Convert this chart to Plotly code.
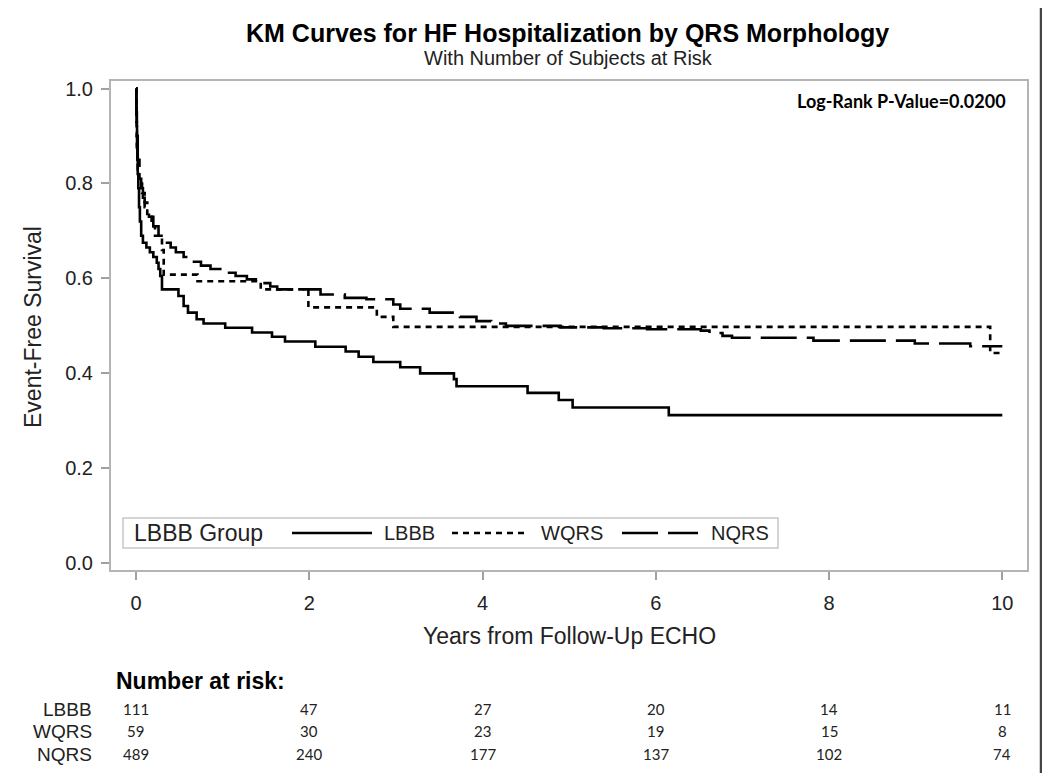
import plotly.graph_objects as go

# ---------------- data ----------------
groups = ["LBBB", "WQRS", "NQRS"]

lbbb_t = [0.004, 0.008, 0.012, 0.016, 0.02, 0.027, 0.035, 0.045, 0.06, 0.08, 0.12, 0.16,
          0.20, 0.24, 0.26, 0.28, 0.30, 0.49, 0.55, 0.60, 0.70, 0.78, 1.03, 1.34, 1.57,
          1.72, 2.07, 2.42, 2.57, 2.74, 3.05, 3.28, 3.67, 3.70, 4.52, 4.88, 5.04, 6.15]
lbbb_s = [0.96, 0.92, 0.88, 0.85, 0.82, 0.79, 0.75, 0.72, 0.69, 0.675, 0.665, 0.655,
          0.645, 0.633, 0.62, 0.605, 0.577, 0.563, 0.542, 0.528, 0.514, 0.505, 0.496, 0.486, 0.477,
          0.467, 0.456, 0.446, 0.435, 0.424, 0.413, 0.400, 0.388, 0.373, 0.359, 0.344, 0.328, 0.312]

wqrs_t = [0.005, 0.01, 0.02, 0.04, 0.07, 0.10, 0.13, 0.18, 0.22, 0.30, 0.32, 0.71,
          1.44, 1.99, 2.78, 2.97, 9.86]
wqrs_s = [0.93, 0.87, 0.83, 0.80, 0.78, 0.76, 0.73, 0.71, 0.69, 0.66, 0.608, 0.594,
          0.577, 0.539, 0.519, 0.498, 0.443]

nqrs_t = [0.005, 0.01, 0.02, 0.04, 0.06, 0.08, 0.10, 0.15, 0.20, 0.26, 0.32, 0.40,
          0.46, 0.55, 0.65, 0.75, 0.86, 1.00, 1.15, 1.28, 1.45, 1.55, 1.63, 2.13,
          2.41, 2.66, 2.97, 3.05, 3.39, 3.74, 3.93, 4.10, 4.27, 4.90, 5.40, 5.90,
          6.52, 6.62, 6.77, 6.88, 7.82, 8.99, 9.63]
nqrs_s = [0.95, 0.90, 0.85, 0.81, 0.79, 0.77, 0.75, 0.73, 0.71, 0.69, 0.675, 0.665,
          0.655, 0.645, 0.635, 0.627, 0.620, 0.612, 0.605, 0.598, 0.590, 0.583, 0.577, 0.566,
          0.559, 0.556, 0.545, 0.536, 0.528, 0.519, 0.510, 0.505, 0.500, 0.497, 0.495, 0.493,
          0.490, 0.485, 0.479, 0.475, 0.469, 0.463, 0.457]

end_time = 10.0

risk_times = [0, 2, 4, 6, 8, 10]
risk_lbbb = [111, 47, 27, 20, 14, 11]
risk_wqrs = [59, 30, 23, 19, 15, 8]
risk_nqrs = [489, 240, 177, 137, 102, 74]

x_ticks = [0, 2, 4, 6, 8, 10]
y_ticks = [0.0, 0.2, 0.4, 0.6, 0.8, 1.0]
y_tick_labels = ["0.0", "0.2", "0.4", "0.6", "0.8", "1.0"]

title_text = "KM Curves for HF Hospitalization by QRS Morphology"
subtitle_text = "With Number of Subjects at Risk"
pvalue_text = "Log-Rank P-Value=0.0200"
legend_title = "LBBB Group"

# ---------------- layout helpers ----------------
PAGE_OFF = 8                       # default page margin of the html body
W, H = 1050 - PAGE_OFF, 782 - 2 * PAGE_OFF
RL, RR, RT, RB = 111, 1027, 81, 570   # plot area in screen pixels


def px(x):
    return (x - RL) / (RR - RL)


def py(y):
    return (RB - y) / (RB - RT)


AX_FONT = "Liberation Sans, Arial, sans-serif"
CAL_FONT = "Lato, Liberation Sans, sans-serif"

dash_w = "6px,5px"
dash_n = "36px,10px"

series = [
    ("LBBB", lbbb_t, lbbb_s, "solid"),
    ("WQRS", wqrs_t, wqrs_s, dash_w),
    ("NQRS", nqrs_t, nqrs_s, dash_n),
]

fig = go.Figure()
for name, tt, ss, dash in series:
    xs = [0.0] + list(tt) + [end_time]
    ys = [1.0] + list(ss) + [ss[-1]]
    fig.add_trace(go.Scatter(
        x=xs, y=ys, mode="lines", name=name,
        line=dict(color="black", width=2.6, dash=dash, shape="hv"),
        showlegend=False,
    ))

axis_common = dict(
    showline=True, linecolor="#b4b4b4", linewidth=2, mirror=True,
    ticks="outside", ticklen=8, tickwidth=1.5, tickcolor="#a0a0a0",
    showgrid=False, zeroline=False,
    tickfont=dict(family=AX_FONT, size=20, color="#222"),
)

fig.update_layout(
    width=W, height=H,
    margin=dict(l=RL - PAGE_OFF, r=W - (RR - PAGE_OFF), t=RT - PAGE_OFF, b=H - (RB - PAGE_OFF)),
    paper_bgcolor="white", plot_bgcolor="white",
    xaxis=dict(range=[-0.2885, 10.285], tickvals=x_ticks, ticklabelstandoff=6, **axis_common),
    yaxis=dict(range=[-0.0141, 1.0158], tickvals=y_ticks, ticktext=y_tick_labels,
               ticklabelstandoff=4, **axis_common),
    showlegend=False,
)

ann = []
# titles
ann.append(dict(text="<b>" + title_text + "</b>", x=px(567), y=py(33), xref="paper", yref="paper",
                showarrow=False, font=dict(family=AX_FONT, size=25, color="black"),
                xanchor="center", yanchor="middle"))
ann.append(dict(text=subtitle_text, x=px(568), y=py(58), xref="paper", yref="paper",
                showarrow=False, font=dict(family=AX_FONT, size=20, color="#222"),
                xanchor="center", yanchor="middle"))
ann.append(dict(text="<b>" + pvalue_text + "</b>", x=px(1008), y=py(101), xref="paper", yref="paper",
                showarrow=False, font=dict(family=CAL_FONT, size=18, color="black"),
                xanchor="right", yanchor="middle"))
# axis titles
ann.append(dict(text="Years from Follow-Up ECHO", x=px(569), y=py(636), xref="paper", yref="paper",
                showarrow=False, font=dict(family=AX_FONT, size=23, color="#222"),
                xanchor="center", yanchor="middle"))
ann.append(dict(text="Event-Free Survival", x=px(33), y=py(327), xref="paper", yref="paper",
                showarrow=False, textangle=-90, font=dict(family=AX_FONT, size=23, color="#222"),
                xanchor="center", yanchor="middle"))

# legend (drawn)
shapes = []
shapes.append(dict(type="rect", xref="paper", yref="paper", x0=px(123), x1=px(778),
                   y0=py(548), y1=py(518), line=dict(color="#c8c8c8", width=1.5),
                   fillcolor="white"))
ann.append(dict(text=legend_title, x=px(132), y=py(533), xref="paper", yref="paper",
                showarrow=False, font=dict(family=AX_FONT, size=23, color="#222"),
                xanchor="left", yanchor="middle"))
leg_pos = [(292, 372, 382), (452, 528, 539), (622, 698, 709)]
for (name, tt, ss, dash), (a, b, tx) in zip(series, leg_pos):
    shapes.append(dict(type="line", xref="paper", yref="paper", x0=px(a), x1=px(b),
                       y0=py(533), y1=py(533), line=dict(color="black", width=2.6, dash=dash)))
    ann.append(dict(text=name, x=px(tx), y=py(533), xref="paper", yref="paper",
                    showarrow=False, font=dict(family=AX_FONT, size=20, color="#222"),
                    xanchor="left", yanchor="middle"))

# risk table
ann.append(dict(text="<b>Number at risk:</b>", x=px(114), y=py(681), xref="paper", yref="paper",
                showarrow=False, font=dict(family=AX_FONT, size=23, color="black"),
                xanchor="left", yanchor="middle"))
rows = [("LBBB", risk_lbbb, 709), ("WQRS", risk_wqrs, 731), ("NQRS", risk_nqrs, 754)]
for name, vals, yy in rows:
    ann.append(dict(text=name, x=px(94), y=py(yy), xref="paper", yref="paper",
                    showarrow=False, font=dict(family=AX_FONT, size=19, color="#222"),
                    xanchor="right", yanchor="middle"))
    for t, v in zip(risk_times, vals):
        ann.append(dict(text=str(v), x=t, y=py(yy), xref="x", yref="paper",
                        showarrow=False, font=dict(family=CAL_FONT, size=15, color="#222"),
                        xanchor="center", yanchor="middle"))

# screenshot border at right
shapes.append(dict(type="line", xref="paper", yref="paper", x0=px(1041), x1=px(1041),
                   y0=py(773), y1=py(0), line=dict(color="#444444", width=2.5)))

fig.update_layout(annotations=ann, shapes=shapes)
fig.write_html("out.html")
